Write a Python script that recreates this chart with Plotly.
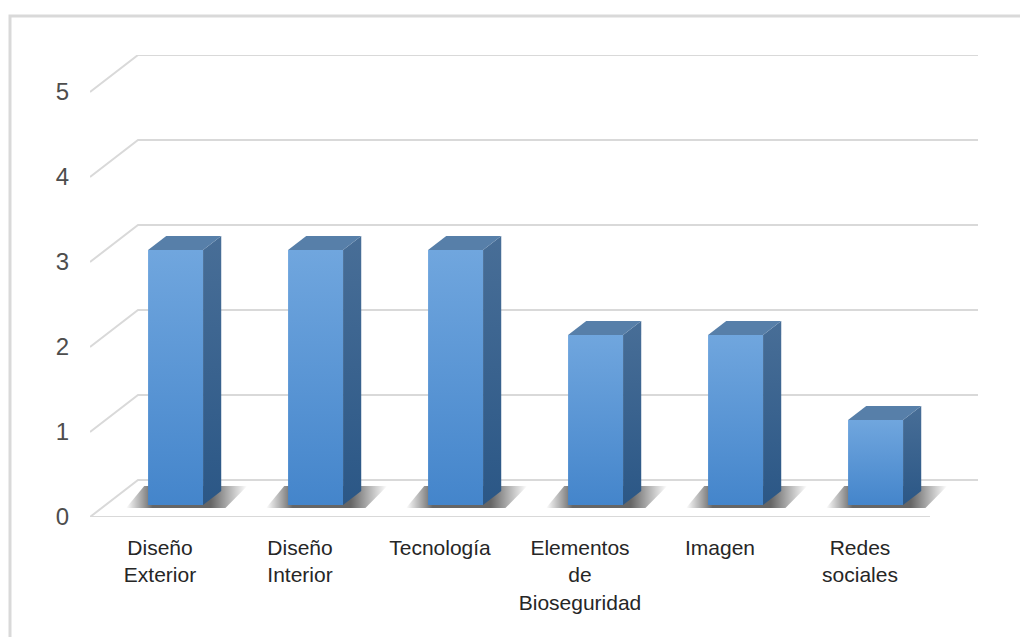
import plotly.graph_objects as go

# ---- data ----
categories = ["Diseño<br>Exterior", "Diseño<br>Interior", "Tecnología",
              "Elementos<br>de<br>Bioseguridad", "Imagen", "Redes<br>sociales"]
values = [3, 3, 3, 2, 2, 1]
y_ticks = [0, 1, 2, 3, 4, 5]

# ---- 3D styling constants (in axis units) ----
DX = 48 / 140      # depth offset along x
DY = 37 / 85       # depth offset along y
F1 = 12 / 37       # bar front depth fraction
F2 = 26 / 37       # bar back depth fraction
HW = 27.5 / 140    # half bar width
GRID = "#d9d9d9"
FONT = "Liberation Sans Narrow, Arial Narrow, Liberation Sans, Arial, sans-serif"

n = len(categories)
x_lo, x_hi = -0.5, n - 0.5

fig = go.Figure()

# gridlines: side wall diagonal + back wall horizontal
for t in y_ticks:
    fig.add_trace(go.Scatter(
        x=[x_lo, x_lo + DX, x_hi + DX], y=[t, t + DY, t + DY],
        mode="lines", line=dict(color=GRID, width=2),
        hoverinfo="skip", showlegend=False))
# floor front edge
fig.add_trace(go.Scatter(
    x=[x_lo, x_hi], y=[0, 0], mode="lines",
    line=dict(color=GRID, width=2), hoverinfo="skip", showlegend=False))

ddx = (F2 - F1) * DX
pxx = 1 / 140
pxy = 1 / 85

# soft shadows on the floor (horizontal gradient parallelogram)
shadow_scale = [[0, "rgba(0,0,0,0)"], [0.22, "rgba(0,0,0,0.6)"],
                [0.7, "rgba(0,0,0,0.6)"], [1, "rgba(0,0,0,0)"]]
for i, v in enumerate(values):
    xl = i + F1 * DX - HW
    xr = i + F1 * DX + HW
    exl, exr, eyb, eyt = 22 * pxx, 26 * pxx, 3 * pxy, 5 * pxy
    xs = [xl - exl, xr + exr - ddx * 0.2, xr + ddx + exr, xl + ddx - exl, xl - exl]
    ys = [F1 * DY - eyb, F1 * DY - eyb, F2 * DY + eyt, F2 * DY + eyt,
          F1 * DY - eyb]
    fig.add_trace(go.Scatter(
        x=xs, y=ys, mode="lines", fill="toself", line=dict(width=0),
        fillgradient=dict(type="horizontal", colorscale=shadow_scale),
        hoverinfo="skip", showlegend=False))

# bars
for i, v in enumerate(values):
    xl = i + F1 * DX - HW
    xr = i + F1 * DX + HW
    y0 = F1 * DY
    y1 = v + F1 * DY
    # front face
    fig.add_trace(go.Scatter(
        x=[xl, xr, xr, xl, xl], y=[y0, y0, y1, y1, y0],
        mode="lines", fill="toself", line=dict(width=0),
        fillgradient=dict(type="vertical",
                          colorscale=[[0, "#4485cb"], [1, "#70a6de"]]),
        hoverinfo="skip", showlegend=False))
    # side face
    fig.add_trace(go.Scatter(
        x=[xr, xr + ddx, xr + ddx, xr, xr],
        y=[y0, y0 + (F2 - F1) * DY, y1 + (F2 - F1) * DY, y1, y0],
        mode="lines", fill="toself", line=dict(width=0),
        fillgradient=dict(type="vertical",
                          colorscale=[[0, "#2b5786"], [1, "#486e97"]]),
        hoverinfo="skip", showlegend=False))
    # top face
    fig.add_trace(go.Scatter(
        x=[xl, xl + ddx, xr + ddx, xr, xl],
        y=[y1, y1 + (F2 - F1) * DY, y1 + (F2 - F1) * DY, y1, y1],
        mode="lines", fill="toself", line=dict(width=0),
        fillcolor="#577fa9",
        hoverinfo="skip", showlegend=False))

L, R, T, B = 90, 42, 55, 120
W, H = 1020, 637
pw, ph = W - L - R, H - T - B

fig.update_layout(
    width=W, height=H,
    margin=dict(l=L, r=R, t=T, b=B),
    paper_bgcolor="white", plot_bgcolor="white",
    font=dict(family=FONT, color="#404040"),
    xaxis=dict(range=[x_lo, x_hi + DX], showgrid=False, zeroline=False,
               showline=False, tickvals=list(range(n)), ticktext=categories,
               tickangle=0, tickfont=dict(size=21, family=FONT, color="#262626"),
               ticklabelstandoff=16, fixedrange=True),
    yaxis=dict(range=[0, 5 + DY], showgrid=False, zeroline=False,
               showline=False, tickvals=y_ticks,
               ticktext=[str(t) for t in y_ticks],
               tickfont=dict(size=24, family=FONT, color="#4d4d4d"),
               ticklabelstandoff=20, fixedrange=True),
    shapes=[dict(type="rect", xref="paper", yref="paper",
                 x0=(10 - L) / pw, x1=(W + 10 - L) / pw,
                 y0=(T + ph - (H + 10)) / ph, y1=(T + ph - 16) / ph,
                 line=dict(color=GRID, width=3), fillcolor="rgba(0,0,0,0)",
                 layer="below")],
)

fig.write_html("out.html")
